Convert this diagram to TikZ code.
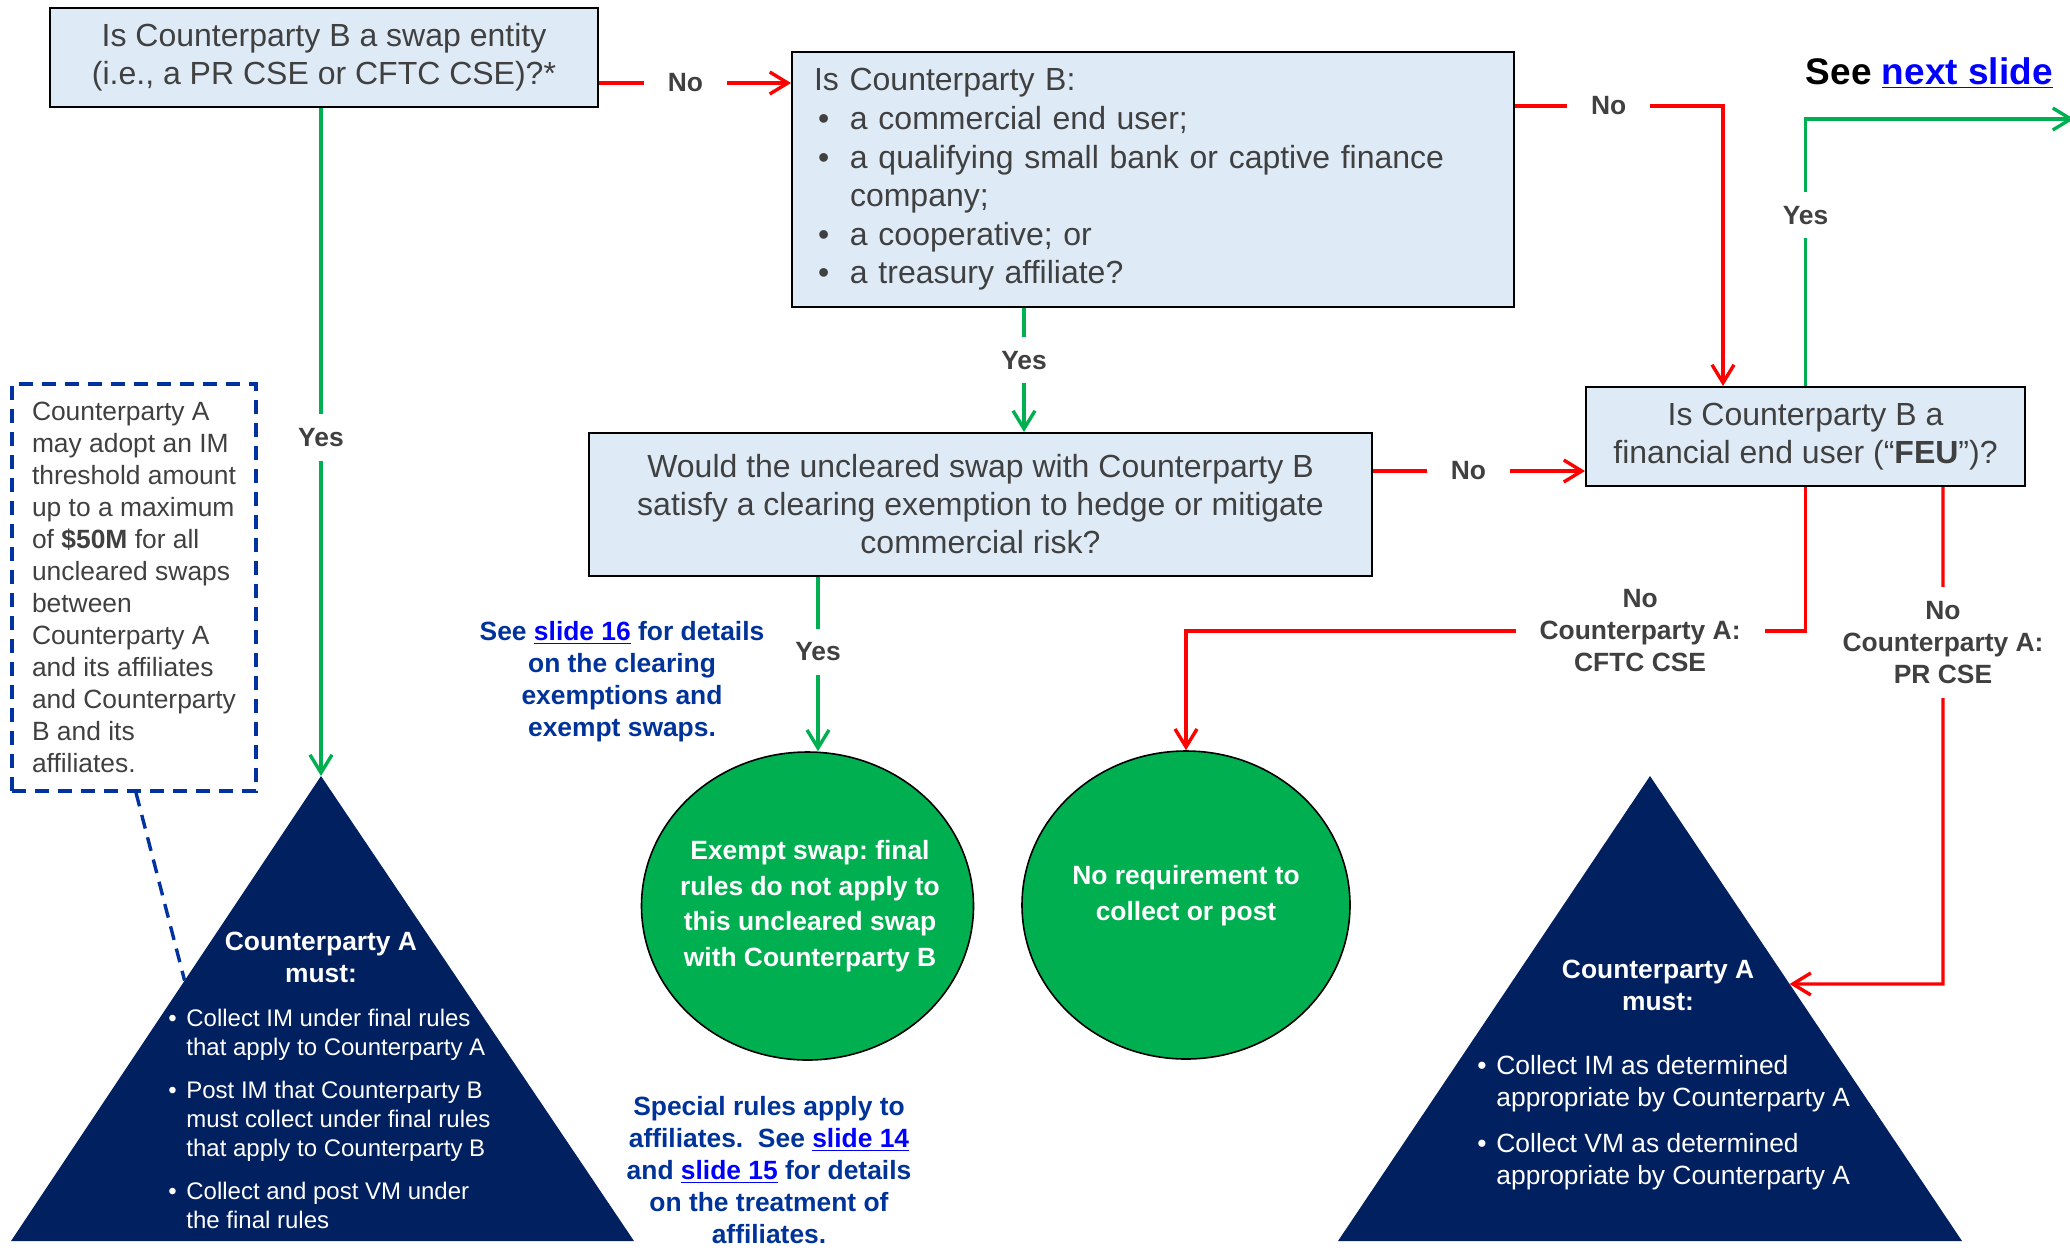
\documentclass[tikz,border=0pt]{standalone}
\usepackage{fontspec}
\setmainfont{Liberation Sans}
\usetikzlibrary{arrows.meta,shapes.geometric,calc}
\definecolor{boxfill}{RGB}{222,235,247}
\definecolor{txtgray}{RGB}{64,64,64}
\definecolor{navyfill}{RGB}{0,32,96}
\definecolor{grn}{RGB}{0,176,80}
\definecolor{noteblue}{RGB}{0,51,153}
\definecolor{linkblue}{RGB}{0,0,255}
\definecolor{dashblue}{RGB}{0,51,160}
\newcommand\lnk[1]{\textcolor{linkblue}{\underline{#1}}}
\newcommand\bul[1]{\makebox[#1][l]{\textbullet}}
\frenchspacing
\begin{document}
\begin{tikzpicture}[x=0.5pt,y=-0.5pt,
  qbox/.style={draw=black, line width=1pt, fill=boxfill, text=txtgray,
    font=\fontsize{16}{19}\selectfont, inner sep=0pt, align=center},
  lbl/.style={fill=white, text=txtgray, font=\bfseries\fontsize{13.2}{16}\selectfont,
    inner xsep=12pt, inner ysep=7pt, align=center},
  redarr/.style={draw=red, line width=1.7pt, -{Straight Barb[length=9pt,width=11pt]}},
  grnarr/.style={draw=grn, line width=1.7pt, -{Straight Barb[length=9pt,width=11pt]}},
  dashln/.style={draw=dashblue, line width=1.7pt, dash pattern=on 7pt off 4.5pt},
  notetxt/.style={text=noteblue, font=\bfseries\fontsize{13.2}{16}\selectfont, align=center, inner sep=0pt},
  circ/.style={ellipse, draw=black, line width=0.8pt, fill=grn, inner sep=0pt,
    minimum height=154pt},
  circtxt/.style={text=white, font=\bfseries\fontsize{13.2}{17.8}\selectfont, align=center, inner sep=0pt},
  trihead/.style={text=white, font=\bfseries\fontsize{13.2}{16}\selectfont, align=center, inner sep=0pt}
]
\fill[white] (0,0) rectangle (2070,1249);
\useasboundingbox (0,0) rectangle (2070,1249);

% helper coordinates
\coordinate (y83) at (0,83);
\coordinate (y106) at (0,106);
\coordinate (y119) at (0,119);
\coordinate (y471) at (0,471);
\coordinate (y631) at (0,631);
\coordinate (y984) at (0,984);
\coordinate (x136) at (136,0);
\coordinate (x818) at (818,0);
\coordinate (x1024) at (1024,0);
\coordinate (x1723) at (1723,0);
\coordinate (x1943) at (1943,0);
\coordinate (x2072) at (2074,0);

% triangles
\coordinate (tla) at (321,776);
\coordinate (tlb) at (11,1241);
\coordinate (tlc) at (634,1241);
\coordinate (tra) at (1650,776);
\coordinate (trb) at (1338,1241);
\coordinate (trc) at (1962,1241);
\fill[navyfill] (tla) -- (tlb) -- (tlc) -- cycle;
\fill[navyfill] (tra) -- (trb) -- (trc) -- cycle;
\coordinate (tlhit) at ($(tla)!0.44!(tlb)$);
\coordinate (trhit) at ($(tra)!0.4473!(trc)$);

% boxes
\node[qbox, minimum width=274pt, minimum height=49.5pt] (b1) at (324,57.5)
  {Is Counterparty B a swap entity\\(i.e., a PR CSE or CFTC CSE)?*};
\node[qbox, minimum width=361pt, minimum height=127.5pt, align=left, text width=339pt,
  font=\fontsize{16}{19.3}\selectfont] (b2) at (1153,179.5)
  {Is Counterparty B:\\
   \hspace*{2pt}\bul{16pt}a commercial end user;\\
   \hspace*{2pt}\bul{16pt}a qualifying small bank or captive finance\\
   \hspace*{18pt}company;\\
   \hspace*{2pt}\bul{16pt}a cooperative; or\\
   \hspace*{2pt}\bul{16pt}a treasury affiliate?};
\node[qbox, minimum width=391.5pt, minimum height=71.5pt] (b3) at (980.5,504.5)
  {Would the uncleared swap with Counterparty B\\satisfy a clearing exemption to hedge or mitigate\\commercial risk?};
\node[qbox, minimum width=219.5pt, minimum height=49.5pt] (b4) at (1805.5,436.5)
  {Is Counterparty B a\\financial end user (“\textbf{FEU}”)?};

% dashed note
\node[dashln, minimum width=122pt, minimum height=203.5pt, align=left, text=txtgray,
  font=\fontsize{13.2}{16}\selectfont, inner sep=0pt] (note) at (134,587.5)
  {Counterparty A\\may adopt an IM\\threshold amount\\up to a maximum\\of \textbf{\$50M} for all\\uncleared swaps\\between\\Counterparty A\\and its affiliates\\and Counterparty\\B and its\\affiliates.};

% circles
\node[circ, minimum width=166pt] (c1) at (807.5,906) {};
\node[circtxt] (c1t) at (810,906)
  {Exempt swap: final\\rules do not apply to\\this uncleared swap\\with Counterparty B};
\node[circ, minimum width=164pt] (c2) at (1186,905) {};
\node[circtxt] (c2t) at (1186,895.5) {No requirement to\\collect or post};

% triangle texts
\node[trihead] (th1) at (321,957) {Counterparty A\\must:};
\node[anchor=west, text=white, font=\fontsize{12}{14.5}\selectfont, align=left, inner sep=0pt] (tb1) at (168,1119)
  {\bul{9pt}Collect IM under final rules\\\hspace*{9pt}that apply to Counterparty A\\[7pt]
   \bul{9pt}Post IM that Counterparty B\\\hspace*{9pt}must collect under final rules\\\hspace*{9pt}that apply to Counterparty B\\[7pt]
   \bul{9pt}Collect and post VM under\\\hspace*{9pt}the final rules};
\node[trihead] (th2) at (1658,985) {Counterparty A\\must:};
\node[anchor=west, text=white, font=\fontsize{13.2}{16}\selectfont, align=left, inner sep=0pt] (tb2) at (1477,1123)
  {\bul{9.5pt}Collect IM as determined\\\hspace*{9.5pt}appropriate by Counterparty A\\[7pt]
   \bul{9.5pt}Collect VM as determined\\\hspace*{9.5pt}appropriate by Counterparty A};

% notes
\node[notetxt] (n1) at (622,682) {See \lnk{slide 16} for details\\on the clearing\\exemptions and\\exempt swaps.};
\node[notetxt] (n2) at (769,1170) {Special rules apply to\\affiliates.\ \ See \lnk{slide 14}\\and \lnk{slide 15} for details\\on the treatment of\\affiliates.};
\node[anchor=east, inner sep=0pt, font=\bfseries\fontsize{18.5}{22}\selectfont] (nxt) at (2053,73) {See \lnk{next slide}};

% connectors
\draw[redarr] (b1.east |- y83) -- node[lbl, pos=0.45]{No} (b2.west |- y83);
\draw[grnarr] (b1.south -| tla) -- node[lbl, pos=0.493]{Yes} (tla);
\draw[grnarr] (b2.south -| x1024) -- node[lbl, pos=0.42]{Yes} (b3.north -| x1024);
\draw[redarr] (b2.east |- y106) -- node[lbl, pos=0.45]{No} (x1723 |- y106) -- (b4.north -| x1723);
\draw[grnarr] (b4.north) -- node[lbl, pos=0.64]{Yes} (b4.north |- y119) -- (x2072 |- y119);
\draw[redarr] (b3.east |- y471) -- node[lbl, pos=0.45]{No} (b4.west |- y471);
\draw[grnarr] (b3.south -| x818) -- node[lbl, pos=0.43]{Yes} (c1.north -| x818);
\draw[redarr] (b4.south) -- (b4.south |- y631) -- node[lbl, pos=0.267, inner ysep=2pt]{No\\Counterparty A:\\CFTC CSE} (c2.north |- y631) -- (c2.north);
\draw[redarr] (b4.south -| x1943) -- node[lbl, pos=0.313, inner xsep=2pt]{No\\Counterparty A:\\PR CSE} (x1943 |- y984) -- (trhit);
\draw[dashln] (note.south -| x136) -- (tlhit);
\end{tikzpicture}
\end{document}
